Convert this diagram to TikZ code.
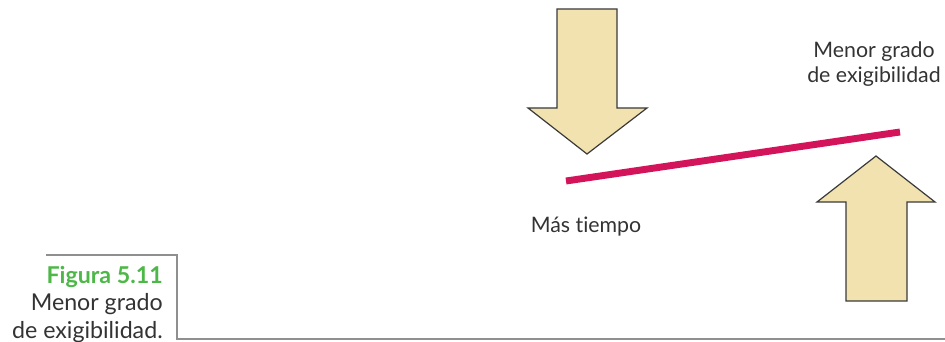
\documentclass[tikz,border=0pt]{standalone}
\usepackage{fontspec}
\setmainfont{Lato}[Ligatures=NoCommon]
\usepackage{xcolor}
\usepackage{tikz}

\definecolor{beige}{HTML}{F1E2B0}
\definecolor{contorno}{HTML}{3A3A3A}
\definecolor{carmin}{HTML}{D4145A}
\definecolor{verde}{HTML}{4DB748}
\definecolor{gris}{HTML}{8F8F8F}
\definecolor{texto}{HTML}{333333}

\begin{document}
\begin{tikzpicture}[
      x=0.75pt, y=-0.75pt,
      font=\fontsize{16pt}{18.75pt}\selectfont,
      flecha/.style={
        draw=contorno,
        fill=beige,
        line width=0.9pt,
        line join=miter
      },
      rotulo/.style={
        align=center,
        inner sep=0pt,
        text=texto
      },
      marco/.style={draw=gris, line width=1.1pt}
    ]
    \useasboundingbox (0,0) rectangle (945,342);
    % flechas
    \draw[flecha] (557,9) -- (617,9) -- (617,108) -- (647,108) -- (587,154)
      -- (528,108) -- (557,108) -- cycle;
    \draw[flecha] (846,301) -- (907,301) -- (907,202) -- (935,202) -- (876,156)
      -- (817,202) -- (846,202) -- cycle;
    % recta
    \draw[carmin, line width=5.2pt] (566,181) -- (900,132);
    % textos (base = ultima linea)
    \node[rotulo, anchor=base] (menor) at (874,83) {Menor grado\\de exigibilidad};
    \node[rotulo, anchor=base] (tiempo) at (586,232) {Más tiempo};
    \node[rotulo, align=right, anchor=base east,
      font=\fontsize{17.4pt}{20.5pt}\selectfont] (figura) at (163,338)
      {\textcolor{verde}{\bfseries Figura 5.11}\\Menor grado\\de exigibilidad.};
    \draw[marco] (46,255) -- (177,255) -- (177,339) -- (945,339);
  \end{tikzpicture}
\end{document}
